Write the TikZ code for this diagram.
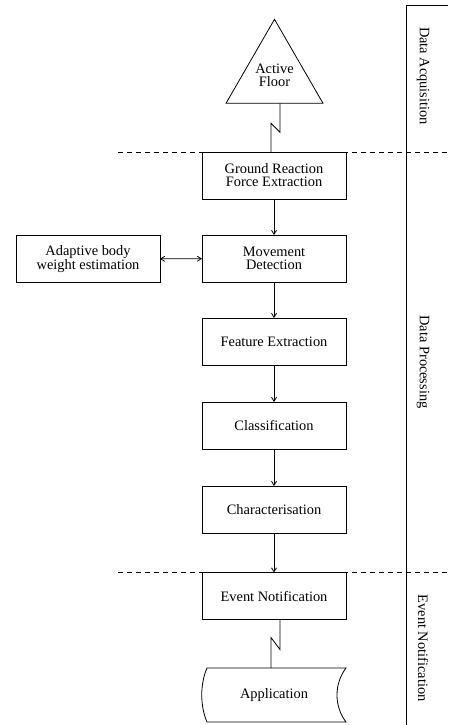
\documentclass[tikz,border=0pt]{standalone}
\usepackage{fontspec}
\setmainfont{Liberation Serif}
\usetikzlibrary{shapes.geometric,arrows.meta}
\begin{document}
\begin{tikzpicture}[x=1pt,y=-1pt,
  font=\fontsize{14.4}{13}\selectfont,
  line width=0.8pt,
  >={Straight Barb[length=4pt,width=5pt]},
  proc/.style={draw,rectangle,minimum width=144pt,minimum height=47pt,inner sep=0pt,outer sep=0pt,align=center},
  side/.style={rotate=-90,inner sep=0pt},
  sep/.style={dash pattern=on 5pt off 4pt}]
\useasboundingbox (0,0) rectangle (448,725);
% side band
\draw (406,725) -- (406,5) -- (448,5);
\draw[sep] (118,152) -- (448,152);
\draw[sep] (118,572) -- (448,572);
\node[side] (sa) at (423,76) {Data Acquisition};
\node[side] (sp) at (423,362) {Data Processing};
\node[side] (sn) at (423,648) {Event Notification};
% triangle
\node[draw,regular polygon,regular polygon sides=3,minimum size=112pt,inner sep=0pt,outer sep=0pt] (tri) at (274.5,75.3) {};
\node[align=center,inner sep=0pt] (tritext) at (274.5,75) {Active\\Floor};
% boxes
\node[proc] (grf) at (274,175.5) {Ground Reaction\\Force Extraction};
\node[proc] (md) at (274,258.5) {Movement\\Detection};
\node[proc] (fe) at (274,341.5) {Feature Extraction};
\node[proc] (cl) at (274,425.5) {Classification};
\node[proc] (ch) at (274,509.5) {Characterisation};
\node[proc] (en) at (274,596) {Event Notification};
\node[proc] (ab) at (88,259) {Adaptive body\\weight estimation};
% application (stored data shape)
\node[minimum width=144pt,minimum height=54pt,inner sep=0pt,outer sep=0pt] (app) at (274,695) {Application};
\draw ([xshift=5pt]app.north west) -- (app.north east)
  .. controls +(-12,16) and +(-12,-16) .. (app.south east)
  -- ([xshift=5pt]app.south west)
  .. controls +(-7,-16) and +(-7,16) .. ([xshift=5pt]app.north west) -- cycle;
% connectors
\draw ([xshift=5.5pt]tri.south) -- ++(0,29) -- ++(-9,-9) -- ([xshift=-3pt]grf.north);
\draw[->] (grf) -- (md);
\draw[->] (md) -- (fe);
\draw[->] (fe) -- (cl);
\draw[->] (cl) -- (ch);
\draw[->] (ch) -- (en);
\draw[<->] (ab) -- (md);
\draw ([xshift=6pt]en.south) -- ++(0,30) -- ++(-9,-12) -- ([xshift=-3pt]app.north);
\end{tikzpicture}
\end{document}
